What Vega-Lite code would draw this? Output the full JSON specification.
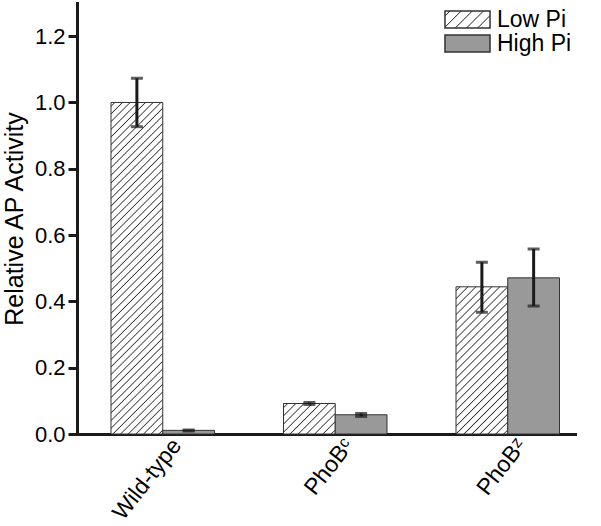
{
  "$schema": "https://vega.github.io/schema/vega-lite/v6.json",
  "width": 498,
  "height": 431,
  "autosize": {"type": "none"},
  "padding": {"left": 77, "top": 3, "right": 26, "bottom": 92},
  "background": "white",
  "config": {"view": {"stroke": null}, "font": "Liberation Sans"},
  "data": {"values": [
    {"group": "Wild-type", "cond": "Low Pi", "value": 1.0, "lo": 0.927, "hi": 1.073},
    {"group": "Wild-type", "cond": "High Pi", "value": 0.011, "lo": 0.009, "hi": 0.012},
    {"group": "PhoBᶜ", "cond": "Low Pi", "value": 0.092, "lo": 0.089, "hi": 0.095},
    {"group": "PhoBᶜ", "cond": "High Pi", "value": 0.058, "lo": 0.053, "hi": 0.062},
    {"group": "PhoBᶻ", "cond": "Low Pi", "value": 0.444, "lo": 0.367, "hi": 0.518},
    {"group": "PhoBᶻ", "cond": "High Pi", "value": 0.471, "lo": 0.386, "hi": 0.558}
  ]},
  "encoding": {
    "x": {"field": "group", "type": "nominal", "sort": ["Wild-type", "PhoBᶜ", "PhoBᶻ"],
      "scale": {"paddingInner": 0.4, "paddingOuter": 0.1435, "align": 0.687},
      "axis": {"title": null, "ticks": false, "domainColor": "#1a1a1a", "domainWidth": 3, "domainCap": "square",
        "labelAngle": -52, "labelFontSize": 23, "labelColor": "#000", "labelPadding": 7, "labelOffset": 14, "labelFont": "Liberation Sans"}},
    "xOffset": {"field": "cond", "type": "nominal", "sort": ["Low Pi", "High Pi"], "scale": {"paddingInner": 0, "paddingOuter": 0}}
  },
  "layer": [
    {
      "mark": {"type": "bar", "stroke": "#333333", "strokeWidth": 1},
      "encoding": {
        "y": {"field": "value", "type": "quantitative",
          "scale": {"domain": [0, 1.3], "nice": false, "zero": true},
          "axis": {"title": "Relative AP Activity", "values": [0, 0.2, 0.4, 0.6, 0.8, 1.0, 1.2], "format": ".1f",
            "grid": false, "domainColor": "#1a1a1a", "domainWidth": 3, "domainCap": "square",
            "tickColor": "#1a1a1a", "tickWidth": 3, "tickSize": 9, "labelPadding": 3, "labelFontSize": 22, "labelColor": "#000",
            "labelFont": "Liberation Sans", "titleFont": "Liberation Sans", "titleFontSize": 25, "titleFontWeight": "normal",
            "titleColor": "#000", "titlePadding": 7}},
        "fill": {"field": "cond", "type": "nominal",
          "scale": {"domain": ["Low Pi", "High Pi"], "range": [
            {"expr": "{gradient: 'linear', x1: 0, y1: 0, x2: 1.2057, y2: 0.4555, stops: [{offset: 0, color: '#fff'}, {offset: 0.062, color: '#fff'}, {offset: 0.08, color: '#333'}, {offset: 0.098, color: '#fff'}, {offset: 0.242, color: '#fff'}, {offset: 0.26, color: '#333'}, {offset: 0.278, color: '#fff'}, {offset: 0.422, color: '#fff'}, {offset: 0.44, color: '#333'}, {offset: 0.458, color: '#fff'}, {offset: 0.602, color: '#fff'}, {offset: 0.62, color: '#333'}, {offset: 0.638, color: '#fff'}, {offset: 0.782, color: '#fff'}, {offset: 0.8, color: '#333'}, {offset: 0.818, color: '#fff'}, {offset: 0.962, color: '#fff'}, {offset: 0.98, color: '#333'}, {offset: 0.998, color: '#fff'}]}"},
            "#999999"]},
          "legend": {"title": null, "orient": "none", "legendX": 365, "legendY": 5, "padding": 0,
            "symbolType": "M-2.65,-1H2.65V1H-2.65Z", "symbolSize": 289, "symbolOffset": 14,
            "symbolStrokeColor": "#333333", "symbolStrokeWidth": 1.5, "labelOffset": 18,
            "labelFontSize": 23, "labelFont": "Liberation Sans", "labelColor": "#000", "rowPadding": 0},
          "condition": [
            {"test": "datum.cond === 'Low Pi' && datum.group === 'Wild-type'", "value": {"gradient": "linear", "x1": 0, "y1": 0, "x2": 0.17616, "y2": 1.12859, "stops": [
              {"offset": 0, "color": "#fff"},
              {"offset": 0.007, "color": "#fff"}, {"offset": 0.01, "color": "#333"}, {"offset": 0.013, "color": "#fff"},
              {"offset": 0.027, "color": "#fff"}, {"offset": 0.03, "color": "#333"}, {"offset": 0.033, "color": "#fff"},
              {"offset": 0.047, "color": "#fff"}, {"offset": 0.05, "color": "#333"}, {"offset": 0.053, "color": "#fff"},
              {"offset": 0.067, "color": "#fff"}, {"offset": 0.07, "color": "#333"}, {"offset": 0.073, "color": "#fff"},
              {"offset": 0.087, "color": "#fff"}, {"offset": 0.09, "color": "#333"}, {"offset": 0.093, "color": "#fff"},
              {"offset": 0.107, "color": "#fff"}, {"offset": 0.11, "color": "#333"}, {"offset": 0.113, "color": "#fff"},
              {"offset": 0.127, "color": "#fff"}, {"offset": 0.13, "color": "#333"}, {"offset": 0.133, "color": "#fff"},
              {"offset": 0.147, "color": "#fff"}, {"offset": 0.15, "color": "#333"}, {"offset": 0.153, "color": "#fff"},
              {"offset": 0.167, "color": "#fff"}, {"offset": 0.17, "color": "#333"}, {"offset": 0.173, "color": "#fff"},
              {"offset": 0.187, "color": "#fff"}, {"offset": 0.19, "color": "#333"}, {"offset": 0.193, "color": "#fff"},
              {"offset": 0.207, "color": "#fff"}, {"offset": 0.21, "color": "#333"}, {"offset": 0.213, "color": "#fff"},
              {"offset": 0.227, "color": "#fff"}, {"offset": 0.23, "color": "#333"}, {"offset": 0.233, "color": "#fff"},
              {"offset": 0.247, "color": "#fff"}, {"offset": 0.25, "color": "#333"}, {"offset": 0.253, "color": "#fff"},
              {"offset": 0.267, "color": "#fff"}, {"offset": 0.27, "color": "#333"}, {"offset": 0.273, "color": "#fff"},
              {"offset": 0.287, "color": "#fff"}, {"offset": 0.29, "color": "#333"}, {"offset": 0.293, "color": "#fff"},
              {"offset": 0.307, "color": "#fff"}, {"offset": 0.31, "color": "#333"}, {"offset": 0.313, "color": "#fff"},
              {"offset": 0.327, "color": "#fff"}, {"offset": 0.33, "color": "#333"}, {"offset": 0.333, "color": "#fff"},
              {"offset": 0.347, "color": "#fff"}, {"offset": 0.35, "color": "#333"}, {"offset": 0.353, "color": "#fff"},
              {"offset": 0.367, "color": "#fff"}, {"offset": 0.37, "color": "#333"}, {"offset": 0.373, "color": "#fff"},
              {"offset": 0.387, "color": "#fff"}, {"offset": 0.39, "color": "#333"}, {"offset": 0.393, "color": "#fff"},
              {"offset": 0.407, "color": "#fff"}, {"offset": 0.41, "color": "#333"}, {"offset": 0.413, "color": "#fff"},
              {"offset": 0.427, "color": "#fff"}, {"offset": 0.43, "color": "#333"}, {"offset": 0.433, "color": "#fff"},
              {"offset": 0.447, "color": "#fff"}, {"offset": 0.45, "color": "#333"}, {"offset": 0.453, "color": "#fff"},
              {"offset": 0.467, "color": "#fff"}, {"offset": 0.47, "color": "#333"}, {"offset": 0.473, "color": "#fff"},
              {"offset": 0.487, "color": "#fff"}, {"offset": 0.49, "color": "#333"}, {"offset": 0.493, "color": "#fff"},
              {"offset": 0.507, "color": "#fff"}, {"offset": 0.51, "color": "#333"}, {"offset": 0.513, "color": "#fff"},
              {"offset": 0.527, "color": "#fff"}, {"offset": 0.53, "color": "#333"}, {"offset": 0.533, "color": "#fff"},
              {"offset": 0.547, "color": "#fff"}, {"offset": 0.55, "color": "#333"}, {"offset": 0.553, "color": "#fff"},
              {"offset": 0.567, "color": "#fff"}, {"offset": 0.57, "color": "#333"}, {"offset": 0.573, "color": "#fff"},
              {"offset": 0.587, "color": "#fff"}, {"offset": 0.59, "color": "#333"}, {"offset": 0.593, "color": "#fff"},
              {"offset": 0.607, "color": "#fff"}, {"offset": 0.61, "color": "#333"}, {"offset": 0.613, "color": "#fff"},
              {"offset": 0.627, "color": "#fff"}, {"offset": 0.63, "color": "#333"}, {"offset": 0.633, "color": "#fff"},
              {"offset": 0.647, "color": "#fff"}, {"offset": 0.65, "color": "#333"}, {"offset": 0.653, "color": "#fff"},
              {"offset": 0.667, "color": "#fff"}, {"offset": 0.67, "color": "#333"}, {"offset": 0.673, "color": "#fff"},
              {"offset": 0.687, "color": "#fff"}, {"offset": 0.69, "color": "#333"}, {"offset": 0.693, "color": "#fff"},
              {"offset": 0.707, "color": "#fff"}, {"offset": 0.71, "color": "#333"}, {"offset": 0.713, "color": "#fff"},
              {"offset": 0.727, "color": "#fff"}, {"offset": 0.73, "color": "#333"}, {"offset": 0.733, "color": "#fff"},
              {"offset": 0.747, "color": "#fff"}, {"offset": 0.75, "color": "#333"}, {"offset": 0.753, "color": "#fff"},
              {"offset": 0.767, "color": "#fff"}, {"offset": 0.77, "color": "#333"}, {"offset": 0.773, "color": "#fff"},
              {"offset": 0.787, "color": "#fff"}, {"offset": 0.79, "color": "#333"}, {"offset": 0.793, "color": "#fff"},
              {"offset": 0.807, "color": "#fff"}, {"offset": 0.81, "color": "#333"}, {"offset": 0.813, "color": "#fff"},
              {"offset": 0.827, "color": "#fff"}, {"offset": 0.83, "color": "#333"}, {"offset": 0.833, "color": "#fff"},
              {"offset": 0.847, "color": "#fff"}, {"offset": 0.85, "color": "#333"}, {"offset": 0.853, "color": "#fff"},
              {"offset": 0.867, "color": "#fff"}, {"offset": 0.87, "color": "#333"}, {"offset": 0.873, "color": "#fff"},
              {"offset": 0.887, "color": "#fff"}, {"offset": 0.89, "color": "#333"}, {"offset": 0.893, "color": "#fff"},
              {"offset": 0.907, "color": "#fff"}, {"offset": 0.91, "color": "#333"}, {"offset": 0.913, "color": "#fff"},
              {"offset": 0.927, "color": "#fff"}, {"offset": 0.93, "color": "#333"}, {"offset": 0.933, "color": "#fff"},
              {"offset": 0.947, "color": "#fff"}, {"offset": 0.95, "color": "#333"}, {"offset": 0.953, "color": "#fff"},
              {"offset": 0.967, "color": "#fff"}, {"offset": 0.97, "color": "#333"}, {"offset": 0.973, "color": "#fff"},
              {"offset": 0.987, "color": "#fff"}, {"offset": 0.99, "color": "#333"}, {"offset": 0.993, "color": "#fff"},
              {"offset": 1, "color": "#fff"}
            ]}},
            {"test": "datum.cond === 'Low Pi' && datum.group === 'PhoBᶜ'", "value": {"gradient": "linear", "x1": 0, "y1": 0, "x2": 1.1796, "y2": 0.6952, "stops": [
              {"offset": 0, "color": "#fff"},
              {"offset": 0.036, "color": "#fff"}, {"offset": 0.05, "color": "#333"}, {"offset": 0.064, "color": "#fff"},
              {"offset": 0.136, "color": "#fff"}, {"offset": 0.15, "color": "#333"}, {"offset": 0.164, "color": "#fff"},
              {"offset": 0.236, "color": "#fff"}, {"offset": 0.25, "color": "#333"}, {"offset": 0.264, "color": "#fff"},
              {"offset": 0.336, "color": "#fff"}, {"offset": 0.35, "color": "#333"}, {"offset": 0.364, "color": "#fff"},
              {"offset": 0.436, "color": "#fff"}, {"offset": 0.45, "color": "#333"}, {"offset": 0.464, "color": "#fff"},
              {"offset": 0.536, "color": "#fff"}, {"offset": 0.55, "color": "#333"}, {"offset": 0.564, "color": "#fff"},
              {"offset": 0.636, "color": "#fff"}, {"offset": 0.65, "color": "#333"}, {"offset": 0.664, "color": "#fff"},
              {"offset": 0.736, "color": "#fff"}, {"offset": 0.75, "color": "#333"}, {"offset": 0.764, "color": "#fff"},
              {"offset": 0.836, "color": "#fff"}, {"offset": 0.85, "color": "#333"}, {"offset": 0.864, "color": "#fff"},
              {"offset": 0.936, "color": "#fff"}, {"offset": 0.95, "color": "#333"}, {"offset": 0.964, "color": "#fff"},
              {"offset": 1, "color": "#fff"}
            ]}},
            {"test": "datum.cond === 'Low Pi' && datum.group === 'PhoBᶻ'", "value": {"gradient": "linear", "x1": 0, "y1": 0, "x2": 0.4229, "y2": 1.2029, "stops": [
              {"offset": 0, "color": "#fff"},
              {"offset": 0.014, "color": "#fff"}, {"offset": 0.02, "color": "#333"}, {"offset": 0.026, "color": "#fff"},
              {"offset": 0.054, "color": "#fff"}, {"offset": 0.06, "color": "#333"}, {"offset": 0.066, "color": "#fff"},
              {"offset": 0.094, "color": "#fff"}, {"offset": 0.1, "color": "#333"}, {"offset": 0.106, "color": "#fff"},
              {"offset": 0.134, "color": "#fff"}, {"offset": 0.14, "color": "#333"}, {"offset": 0.146, "color": "#fff"},
              {"offset": 0.174, "color": "#fff"}, {"offset": 0.18, "color": "#333"}, {"offset": 0.186, "color": "#fff"},
              {"offset": 0.214, "color": "#fff"}, {"offset": 0.22, "color": "#333"}, {"offset": 0.226, "color": "#fff"},
              {"offset": 0.254, "color": "#fff"}, {"offset": 0.26, "color": "#333"}, {"offset": 0.266, "color": "#fff"},
              {"offset": 0.294, "color": "#fff"}, {"offset": 0.3, "color": "#333"}, {"offset": 0.306, "color": "#fff"},
              {"offset": 0.334, "color": "#fff"}, {"offset": 0.34, "color": "#333"}, {"offset": 0.346, "color": "#fff"},
              {"offset": 0.374, "color": "#fff"}, {"offset": 0.38, "color": "#333"}, {"offset": 0.386, "color": "#fff"},
              {"offset": 0.414, "color": "#fff"}, {"offset": 0.42, "color": "#333"}, {"offset": 0.426, "color": "#fff"},
              {"offset": 0.454, "color": "#fff"}, {"offset": 0.46, "color": "#333"}, {"offset": 0.466, "color": "#fff"},
              {"offset": 0.494, "color": "#fff"}, {"offset": 0.5, "color": "#333"}, {"offset": 0.506, "color": "#fff"},
              {"offset": 0.534, "color": "#fff"}, {"offset": 0.54, "color": "#333"}, {"offset": 0.546, "color": "#fff"},
              {"offset": 0.574, "color": "#fff"}, {"offset": 0.58, "color": "#333"}, {"offset": 0.586, "color": "#fff"},
              {"offset": 0.614, "color": "#fff"}, {"offset": 0.62, "color": "#333"}, {"offset": 0.626, "color": "#fff"},
              {"offset": 0.654, "color": "#fff"}, {"offset": 0.66, "color": "#333"}, {"offset": 0.666, "color": "#fff"},
              {"offset": 0.694, "color": "#fff"}, {"offset": 0.7, "color": "#333"}, {"offset": 0.706, "color": "#fff"},
              {"offset": 0.734, "color": "#fff"}, {"offset": 0.74, "color": "#333"}, {"offset": 0.746, "color": "#fff"},
              {"offset": 0.774, "color": "#fff"}, {"offset": 0.78, "color": "#333"}, {"offset": 0.786, "color": "#fff"},
              {"offset": 0.814, "color": "#fff"}, {"offset": 0.82, "color": "#333"}, {"offset": 0.826, "color": "#fff"},
              {"offset": 0.854, "color": "#fff"}, {"offset": 0.86, "color": "#333"}, {"offset": 0.866, "color": "#fff"},
              {"offset": 0.894, "color": "#fff"}, {"offset": 0.9, "color": "#333"}, {"offset": 0.906, "color": "#fff"},
              {"offset": 0.934, "color": "#fff"}, {"offset": 0.94, "color": "#333"}, {"offset": 0.946, "color": "#fff"},
              {"offset": 0.974, "color": "#fff"}, {"offset": 0.98, "color": "#333"}, {"offset": 0.986, "color": "#fff"},
              {"offset": 1, "color": "#fff"}
            ]}}
          ]
        }
      }
    },
    {
      "mark": {"type": "rule", "color": "#1a1a1a", "strokeWidth": 3},
      "encoding": {
        "y": {"field": "lo", "type": "quantitative"},
        "y2": {"field": "hi"}
      }
    },
    {
      "mark": {"type": "tick", "color": "#1a1a1a", "size": 12, "thickness": 3, "orient": "horizontal"},
      "encoding": {"y": {"field": "lo", "type": "quantitative"}}
    },
    {
      "mark": {"type": "tick", "color": "#1a1a1a", "size": 12, "thickness": 3, "orient": "horizontal"},
      "encoding": {"y": {"field": "hi", "type": "quantitative"}}
    }
  ]
}
